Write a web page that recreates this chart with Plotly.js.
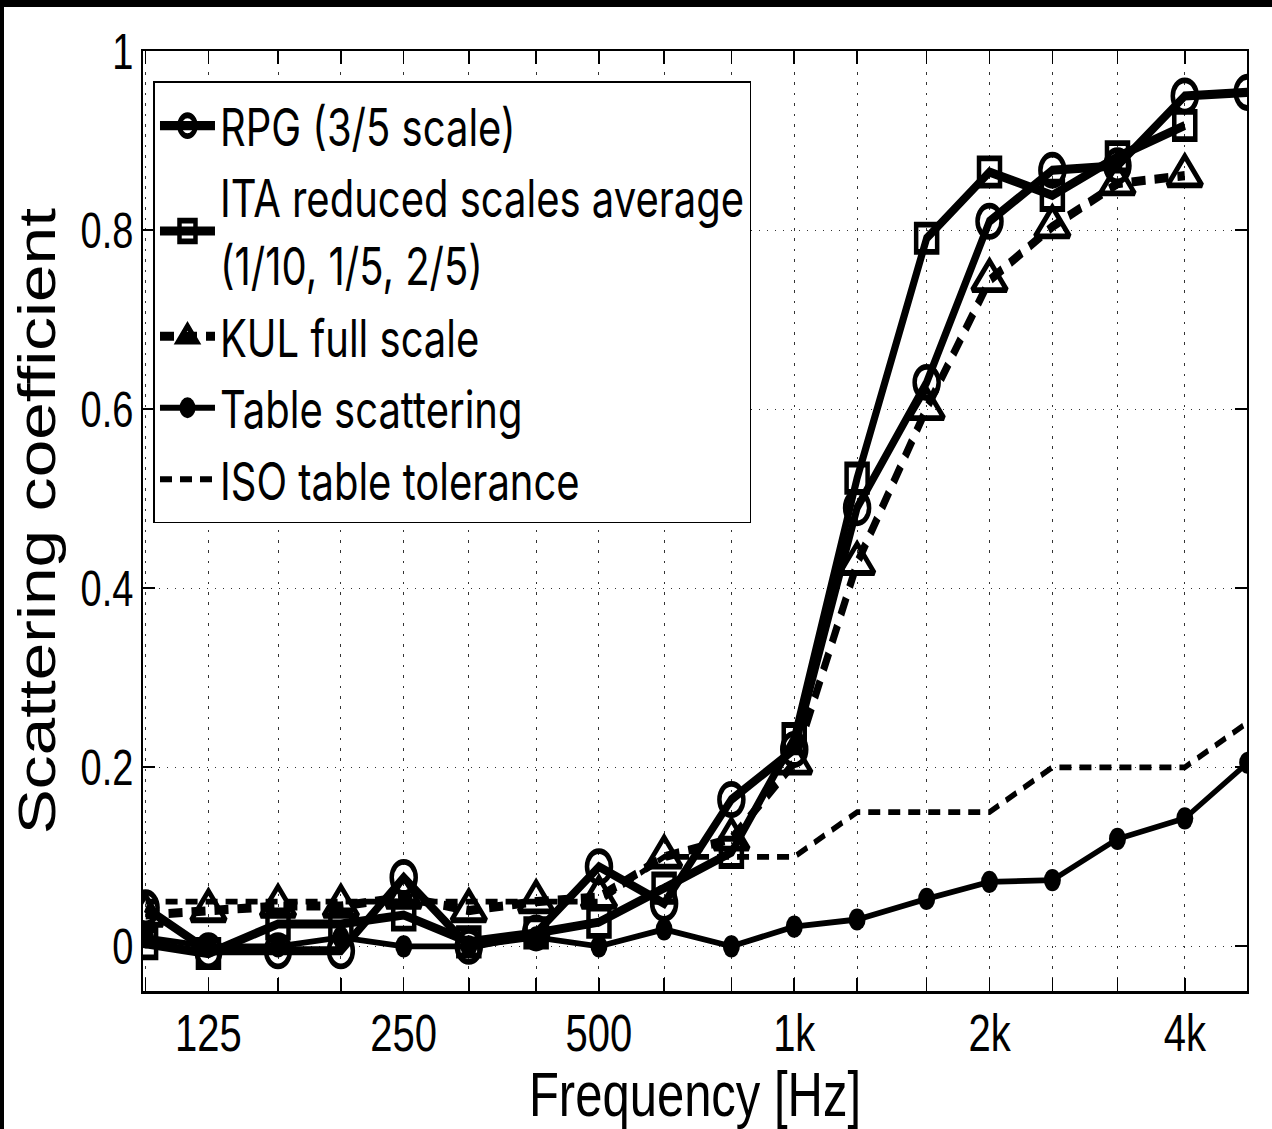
<!DOCTYPE html>
<html>
<head>
<meta charset="utf-8">
<script src="https://cdn.plot.ly/plotly-3.0.1.min.js"></script>
<style>
  html, body { margin: 0; padding: 0; background: #fff; overflow: hidden; }
  #frame { width: 1268px; height: 1122px; border-top: 7px solid #000; border-left: 4px solid #000; overflow: hidden; }
  /* the original figure is stretched vertically; reproduce that aspect */
  #chart { width: 1268px; height: 863px; transform: scaleY(1.3); transform-origin: 0 0; }
</style>
</head>
<body>
<div id="frame"><div id="chart"></div></div>
<script>
// Third-octave band centre frequencies [Hz]
const freqs = [100, 125, 160, 200, 250, 315, 400, 500, 630, 800, 1000, 1250, 1600, 2000, 2500, 3150, 4000, 5000];
const tickLabels = ['', '125', '', '', '250', '', '', '500', '', '', '1k', '', '', '2k', '', '', '4k', ''];

// Scattering coefficients
const rpg   = [0.043, -0.005, -0.005, -0.005, 0.077, 0.000, 0.015, 0.089, 0.048, 0.164, 0.220, 0.490, 0.630, 0.810, 0.867, 0.872, 0.950, 0.954];
const ita   = [0.003, -0.008, 0.025, 0.025, 0.035, 0.005, 0.015, 0.027, 0.065, 0.105, 0.232, 0.523, 0.791, 0.865, 0.839, 0.882, 0.917, null];
const kul   = [0.035, 0.040, 0.045, 0.045, 0.055, 0.040, 0.050, 0.055, 0.100, 0.120, 0.205, 0.428, 0.601, 0.744, 0.804, 0.852, 0.861, null];
const table = [0.010, 0.000, 0.000, 0.010, 0.000, 0.000, 0.010, 0.000, 0.019, 0.000, 0.022, 0.030, 0.053, 0.072, 0.074, 0.120, 0.143, 0.205];
const iso   = [0.05, 0.05, 0.05, 0.05, 0.05, 0.05, 0.05, 0.05, 0.10, 0.10, 0.10, 0.15, 0.15, 0.15, 0.20, 0.20, 0.20, 0.25];

const yTicks = [0, 0.2, 0.4, 0.6, 0.8, 1];
const yTickText = ['0', '0.2', '0.4', '0.6', '0.8', '1'];

const FONT = 'Liberation Sans, Arial, Helvetica, sans-serif';
const LEGEND_FONT = 'Inter, Liberation Sans, Arial, sans-serif';

const traces = [
  {
    x: freqs, y: rpg, name: 'RPG (3/5 scale)', type: 'scatter', mode: 'lines+markers',
    line: { color: '#000', width: 7 },
    marker: { symbol: 'circle-open', size: 24, color: '#000', line: { color: '#000', width: 4.5 } }
  },
  {
    x: freqs, y: ita, name: 'ITA reduced scales average<br>(1/10, 1/5, 2/5)', type: 'scatter', mode: 'lines+markers',
    line: { color: '#000', width: 7 },
    marker: { symbol: 'square-open', size: 21, color: '#000', line: { color: '#000', width: 4.5 } }
  },
  {
    x: freqs, y: kul, name: 'KUL full scale', type: 'scatter', mode: 'lines+markers',
    line: { color: '#000', width: 7, dash: '14px,9px' },
    marker: { symbol: 'triangle-up-open', size: 30, color: '#000', line: { color: '#000', width: 4.5 } }
  },
  {
    x: freqs, y: table, name: 'Table scattering', type: 'scatter', mode: 'lines+markers',
    line: { color: '#000', width: 4.5 },
    marker: { symbol: 'circle', size: 17, color: '#000' }
  },
  {
    x: freqs, y: iso, name: 'ISO table tolerance', type: 'scatter', mode: 'lines',
    line: { color: '#000', width: 4.5, dash: '12px,8px' }
  }
];

const layout = {
  width: 1268, height: 863,
  margin: { l: 138.5, r: 24.5, t: 33.6, b: 106.2, pad: 0 },
  paper_bgcolor: '#fff', plot_bgcolor: '#fff',
  showlegend: true,
  legend: {
    x: 0.0095, y: 0.9678, xanchor: 'left', yanchor: 'top',
    bgcolor: '#fff', bordercolor: '#000', borderwidth: 1.5,
    font: { family: LEGEND_FONT, size: 40, color: '#000' },
    itemwidth: 55
  },
  xaxis: {
    type: 'log', range: [1.996, 3.698],
    tickmode: 'array', tickvals: freqs, ticktext: tickLabels,
    ticks: 'inside', ticklen: 10, tickwidth: 1.5, tickcolor: '#000',
    ticklabelstandoff: -4,
    showline: true, linecolor: '#000', linewidth: 2, mirror: 'ticks',
    showgrid: true, gridcolor: '#333', gridwidth: 1, griddash: '2px,6px',
    zeroline: false,
    tickfont: { family: FONT, size: 40, color: '#000' },
    title: { text: 'Frequency [Hz]', font: { family: FONT, size: 49, color: '#000' }, standoff: 0 }
  },
  yaxis: {
    range: [-0.05, 1],
    tickmode: 'array', tickvals: yTicks, ticktext: yTickText,
    ticks: 'inside', ticklen: 12, tickwidth: 1.5, tickcolor: '#000',
    showline: true, linecolor: '#000', linewidth: 2, mirror: 'ticks',
    showgrid: true, gridcolor: '#333', gridwidth: 1, griddash: '1px,7px',
    zeroline: false,
    tickfont: { family: FONT, size: 38, color: '#000' },
    title: { text: 'Scattering coefficient', font: { family: FONT, size: 52, color: '#000' }, standoff: 8 }
  }
};

Plotly.newPlot('chart', traces, layout, { displayModeBar: false, staticPlot: true });
</script>
</body>
</html>
